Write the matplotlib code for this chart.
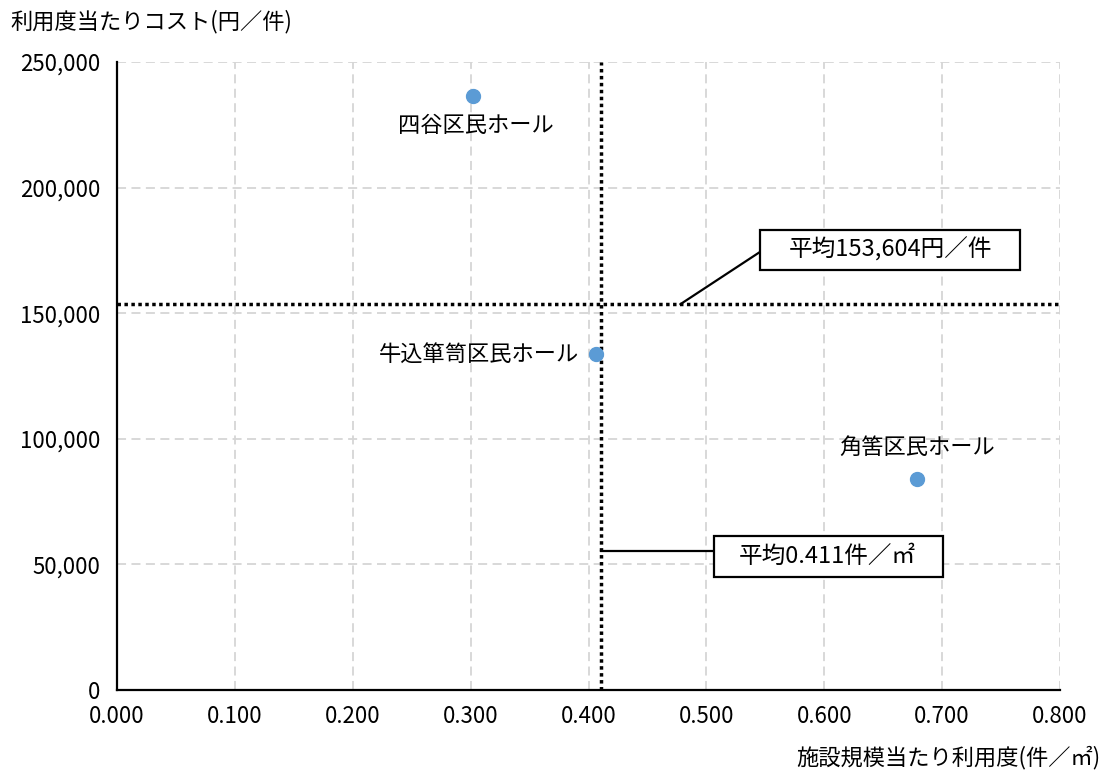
import matplotlib.pyplot as plt
from matplotlib.patches import Rectangle
from matplotlib.ticker import FuncFormatter

plt.rcParams['font.family'] = ['Noto Sans CJK JP', 'DejaVu Sans']

# data
facilities = ["四谷区民ホール", "牛込箪笥区民ホール", "角筈区民ホール"]
usage_per_area = [0.302, 0.406, 0.679]          # 件／㎡
cost_per_use = [236500, 133800, 84000]          # 円／件
mean_usage = 0.411
mean_cost = 153604
mean_usage_label = "平均0.411件／㎡"
mean_cost_label = "平均153,604円／件"
x_ticks = [0.0, 0.1, 0.2, 0.3, 0.4, 0.5, 0.6, 0.7, 0.8]
y_ticks = [0, 50000, 100000, 150000, 200000, 250000]

FS = 16

fig = plt.figure(figsize=(11.05, 7.71), dpi=100)
ax = fig.add_axes([0.1059, 0.105, 0.8534, 0.8146])

ax.set_xlim(0, 0.8)
ax.set_ylim(0, 250000)
ax.set_xticks(x_ticks)
ax.set_yticks(y_ticks)
ax.xaxis.set_major_formatter(FuncFormatter(lambda v, p: f"{v:.3f}"))
ax.yaxis.set_major_formatter(FuncFormatter(lambda v, p: f"{int(v):,}"))
ax.tick_params(length=0, labelsize=16)
ax.tick_params(axis="x", pad=11)
ax.tick_params(axis="y", pad=12)

ax.grid(True, color="#d6d6d6", linestyle=(0, (5, 3)), linewidth=1.3)
ax.set_axisbelow(True)
for s in ("top", "right"):
    ax.spines[s].set_visible(False)
for s in ("left", "bottom"):
    ax.spines[s].set_linewidth(1.6)
    ax.spines[s].set_color("black")

# mean lines
ax.axhline(mean_cost, color="black", linestyle=(0, (1, 1)), linewidth=2.5, zorder=3)
ax.axvline(mean_usage, color="black", linestyle=(0, (1, 1)), linewidth=2.5, zorder=3)

ax.scatter(usage_per_area, cost_per_use, s=100, color="#5b9bd5", zorder=4)

# point labels
ax.annotate(facilities[0], (usage_per_area[0], cost_per_use[0]), xytext=(2, -21),
            textcoords="offset points", ha="center", va="center", fontsize=FS)
ax.annotate(facilities[1], (usage_per_area[1], cost_per_use[1]), xytext=(-12, -1),
            textcoords="offset points", ha="right", va="center", fontsize=FS)
ax.annotate(facilities[2], (usage_per_area[2], cost_per_use[2]), xytext=(0, 23),
            textcoords="offset points", ha="center", va="center", fontsize=FS)

# callouts for the averages
ax.plot([0.478, 0.5455], [mean_cost, 174400], color="black", lw=1.6, zorder=5)
ax.add_patch(Rectangle((0.5455, 167200), 0.2205, 15900, fc="white", ec="black",
                       lw=1.6, zorder=6))
ax.text(0.656, 175300, mean_cost_label, fontsize=17, ha="center", va="center", zorder=7)

ax.plot([mean_usage, 0.5065], [55300, 55300], color="black", lw=1.6, zorder=5)
ax.add_patch(Rectangle((0.5065, 45000), 0.1942, 16300, fc="white", ec="black",
                       lw=1.6, zorder=6))
ax.text(0.603, 53300, mean_usage_label, fontsize=17, ha="center", va="center", zorder=7)

fig.text(0.009, 0.9715, "利用度当たりコスト(円／件)", fontsize=FS, ha="left", va="center")
fig.text(0.996, 0.018, "施設規模当たり利用度(件／㎡)", fontsize=FS, ha="right", va="center")

fig.savefig("out.png", dpi=100)
